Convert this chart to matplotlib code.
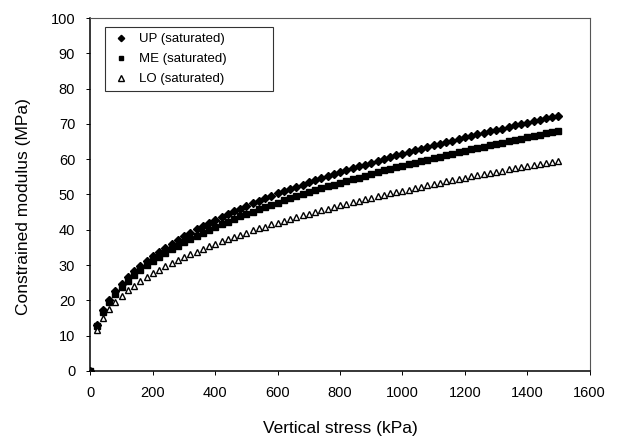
import numpy as np
import matplotlib
matplotlib.use("Agg")
import matplotlib.pyplot as plt

plt.rcParams["font.family"] = ["Liberation Sans", "DejaVu Sans"]

# ─────────────────────────────────────────────
# DATA  (20 kPa steps)
# ─────────────────────────────────────────────

stress = list(range(0, 1501, 20))

up_sat = [0.0,
    13.0, 17.1, 20.1, 22.6, 24.7, 26.5, 28.2, 29.7, 31.1, 32.5,
    33.7, 34.9, 36.0, 37.1, 38.2, 39.1, 40.1, 41.0, 41.9, 42.8,
    43.6, 44.4, 45.2, 46.0, 46.7, 47.5, 48.2, 48.9, 49.6, 50.3,
    50.9, 51.6, 52.2, 52.8, 53.4, 54.0, 54.6, 55.2, 55.8, 56.3,
    56.9, 57.4, 58.0, 58.5, 59.0, 59.6, 60.1, 60.6, 61.1, 61.6,
    62.0, 62.5, 63.0, 63.5, 63.9, 64.4, 64.9, 65.3, 65.7, 66.2,
    66.6, 67.1, 67.5, 67.9, 68.3, 68.7, 69.2, 69.6, 70.0, 70.4,
    70.8, 71.2, 71.6, 71.9, 72.3]

me_sat = [0.0,
    12.8, 16.7, 19.6, 21.9, 23.9, 25.6, 27.2, 28.6, 30.0, 31.2,
    32.4, 33.5, 34.5, 35.5, 36.5, 37.4, 38.3, 39.2, 40.0, 40.8,
    41.6, 42.3, 43.1, 43.8, 44.5, 45.1, 45.8, 46.5, 47.1, 47.7,
    48.3, 48.9, 49.5, 50.1, 50.6, 51.2, 51.7, 52.3, 52.8, 53.3,
    53.8, 54.3, 54.8, 55.3, 55.8, 56.3, 56.8, 57.2, 57.7, 58.1,
    58.6, 59.0, 59.5, 59.9, 60.3, 60.7, 61.2, 61.6, 62.0, 62.4,
    62.8, 63.2, 63.6, 64.0, 64.3, 64.7, 65.1, 65.5, 65.8, 66.2,
    66.6, 66.9, 67.3, 67.6, 68.0]

lo_sat = [0.0,
    11.5, 15.0, 17.5, 19.5, 21.2, 22.8, 24.1, 25.4, 26.6, 27.7,
    28.7, 29.6, 30.6, 31.4, 32.3, 33.1, 33.8, 34.6, 35.3, 36.0,
    36.7, 37.3, 38.0, 38.6, 39.2, 39.8, 40.4, 40.9, 41.5, 42.0,
    42.6, 43.1, 43.6, 44.1, 44.6, 45.0, 45.5, 46.0, 46.4, 46.9,
    47.3, 47.8, 48.2, 48.6, 49.0, 49.5, 49.9, 50.3, 50.7, 51.1,
    51.4, 51.8, 52.2, 52.6, 52.9, 53.3, 53.7, 54.0, 54.4, 54.7,
    55.1, 55.4, 55.7, 56.1, 56.4, 56.7, 57.1, 57.4, 57.7, 58.0,
    58.3, 58.7, 59.0, 59.3, 59.6]

x_ticks = list(range(0, 1601, 200))
y_ticks = list(range(0, 101, 10))

# ─────────────────────────────────────────────
# FIGURE
# ─────────────────────────────────────────────

fig = plt.figure(figsize=(6.24, 4.43), dpi=100, facecolor="white")
ax = fig.add_axes([0.145, 0.163, 0.800, 0.796])

ax.plot(stress, up_sat, linestyle="none", marker="D", markersize=3.8,
        color="black", label="UP (saturated)")
ax.plot(stress, me_sat, linestyle="none", marker="s", markersize=3.8,
        color="black", label="ME (saturated)")
ax.plot(stress, lo_sat, linestyle="none", marker="^", markersize=4.4,
        markerfacecolor="white", markeredgecolor="black",
        markeredgewidth=1.0, color="black", label="LO (saturated)")

ax.set_xlim(0, 1600)
ax.set_ylim(0, 100)
ax.set_xticks(x_ticks)
ax.set_yticks(y_ticks)
ax.tick_params(axis="both", direction="out", length=3, width=0.7,
               labelsize=10.5, pad=8, colors="black")

for side in ["left", "bottom"]:
    ax.spines[side].set_linewidth(1.1)
    ax.spines[side].set_color("black")
for side in ["top", "right"]:
    ax.spines[side].set_linewidth(0.8)
    ax.spines[side].set_color("#555555")

ax.set_xlabel("Vertical stress (kPa)", fontsize=12.5, labelpad=15)
ax.set_ylabel("Constrained modulus (MPa)", fontsize=12.5)
ax.yaxis.set_label_coords(-0.120, 0.467)

# legend box stretched to the width seen in the scan
leg = ax.legend(loc="upper left", bbox_to_anchor=(0.03, 0.975, 0.335, 0.0),
                mode="expand", fontsize=9.5, frameon=True, fancybox=False,
                borderpad=0.45, handletextpad=0.7, labelspacing=0.6,
                handlelength=1.4, borderaxespad=0.0, markerscale=0.85)
leg.get_frame().set_edgecolor("black")
leg.get_frame().set_linewidth(0.8)

fig.savefig("out.png", dpi=100, facecolor="white")
plt.close()
